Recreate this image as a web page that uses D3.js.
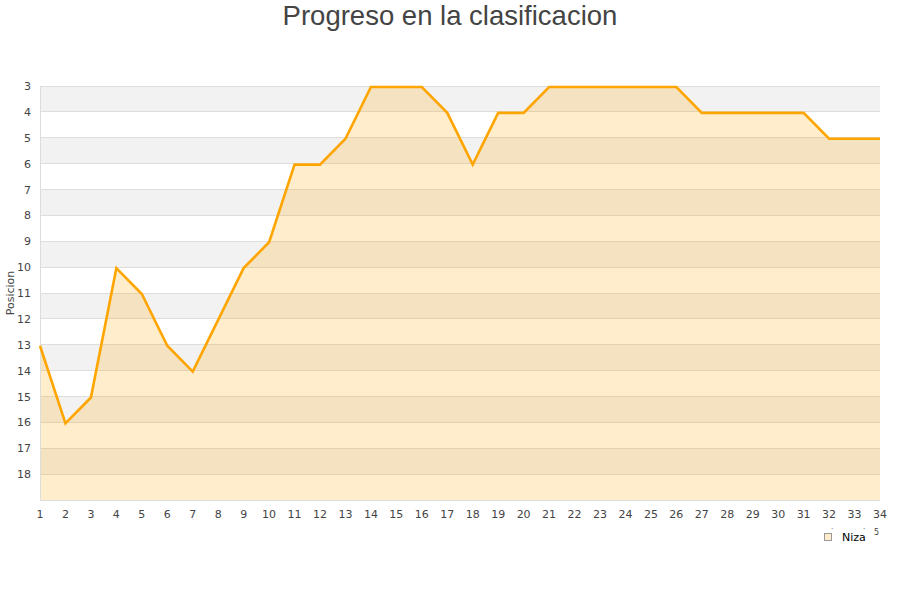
<!DOCTYPE html>
<html>
<head>
<meta charset="utf-8">
<script src="https://d3js.org/d3.v7.min.js"></script>
<style>
  html, body { margin: 0; padding: 0; background: #fff; }
  svg { display: block; }
</style>
</head>
<body>
<svg id="chart" width="900" height="600"></svg>
<script>
const title = "Progreso en la clasificacion";
const yLabel = "Posicion";
const seriesName = "Niza";
const jornadas = [1,2,3,4,5,6,7,8,9,10,11,12,13,14,15,16,17,18,19,20,21,22,23,24,25,26,27,28,29,30,31,32,33,34];
const posiciones = [13,16,15,10,11,13,14,12,10,9,6,6,5,3,3,3,4,6,4,4,3,3,3,3,3,3,4,4,4,4,4,5,5,5];
const yTicks = [3,4,5,6,7,8,9,10,11,12,13,14,15,16,17,18];
const yDomain = [3, 19];

const svg = d3.select("#chart");
const margin = {left: 40, right: 20, top: 86, bottom: 100};
const W = 900, H = 600;

const x = d3.scaleLinear().domain([1, 34]).range([margin.left, W - margin.right]);
const y = d3.scaleLinear().domain(yDomain).range([margin.top, H - margin.bottom]);

// title
svg.append("text")
  .attr("x", 450).attr("y", 25)
  .attr("text-anchor", "middle")
  .attr("font-family", "Liberation Sans, Arial, sans-serif")
  .attr("font-size", 27.5)
  .attr("fill", "#444")
  .text(title);

// alternating bands
const bands = d3.range(yDomain[0], yDomain[1]);
svg.append("g").selectAll("rect").data(bands).join("rect")
  .attr("x", x(1)).attr("width", x(34) - x(1))
  .attr("y", d => y(d)).attr("height", d => y(d + 1) - y(d))
  .attr("fill", (d, i) => i % 2 === 0 ? "#f2f2f2" : "#ffffff");

// gridlines
svg.append("g").selectAll("line").data(yTicks).join("line")
  .attr("x1", x(1)).attr("x2", x(34))
  .attr("y1", d => y(d)).attr("y2", d => y(d))
  .attr("stroke", "#dddddd").attr("stroke-width", 1)
  .attr("shape-rendering", "crispEdges");

// area
const data = jornadas.map((j, i) => ({j, p: posiciones[i]}));
const area = d3.area().x(d => x(d.j)).y0(y(yDomain[1])).y1(d => y(d.p) + 1);
svg.append("path").datum(data)
  .attr("d", area)
  .attr("fill", "rgba(255,165,0,0.2)");

// axes lines
svg.append("line").attr("x1", x(1)).attr("x2", x(1)).attr("y1", y(3)).attr("y2", y(19))
  .attr("stroke", "#dddddd").attr("shape-rendering", "crispEdges");
svg.append("line").attr("x1", x(1)).attr("x2", x(34)).attr("y1", y(19)).attr("y2", y(19))
  .attr("stroke", "#dddddd").attr("shape-rendering", "crispEdges");

// line
const line = d3.line().x(d => x(d.j)).y(d => y(d.p) + 1);
svg.append("path").datum(data)
  .attr("d", line)
  .attr("fill", "none")
  .attr("stroke", "#ffa500")
  .attr("stroke-width", 2.6)
  .attr("stroke-linejoin", "miter");

// y ticks
svg.append("g").selectAll("text").data(yTicks).join("text")
  .attr("x", 31).attr("y", d => y(d) + 4)
  .attr("text-anchor", "end")
  .attr("font-family", "DejaVu Sans, sans-serif")
  .attr("font-size", 11)
  .attr("fill", "#444")
  .text(d => d);

// x ticks
svg.append("g").selectAll("text").data(jornadas).join("text")
  .attr("x", d => x(d)).attr("y", 518)
  .attr("text-anchor", "middle")
  .attr("font-family", "DejaVu Sans, sans-serif")
  .attr("font-size", 11)
  .attr("fill", "#444")
  .text(d => d);

// y label
svg.append("text")
  .attr("transform", "translate(14,293) rotate(-90)")
  .attr("text-anchor", "middle")
  .attr("font-family", "DejaVu Sans, sans-serif")
  .attr("font-size", 11)
  .attr("fill", "#444")
  .text(yLabel);

// legend
const lg = svg.append("g");
lg.append("rect").attr("x", 824.5).attr("y", 533.5).attr("width", 7).attr("height", 7)
  .attr("fill", "#ffeccc").attr("stroke", "#999").attr("stroke-width", 1);
lg.append("text").attr("x", 842).attr("y", 541)
  .attr("font-family", "DejaVu Sans, sans-serif")
  .attr("font-size", 11).attr("fill", "#000")
  .text(seriesName);
lg.append("text").attr("x", 874).attr("y", 535)
  .attr("font-family", "DejaVu Sans, sans-serif")
  .attr("font-size", 8).attr("fill", "#444")
  .text("5");
lg.append("text").attr("x", 831).attr("y", 529)
  .attr("font-family", "DejaVu Sans, sans-serif")
  .attr("font-size", 7).attr("fill", "#444")
  .text(".");
lg.append("text").attr("x", 863).attr("y", 529)
  .attr("font-family", "DejaVu Sans, sans-serif")
  .attr("font-size", 7).attr("fill", "#444")
  .text(".");
</script>
</body>
</html>
